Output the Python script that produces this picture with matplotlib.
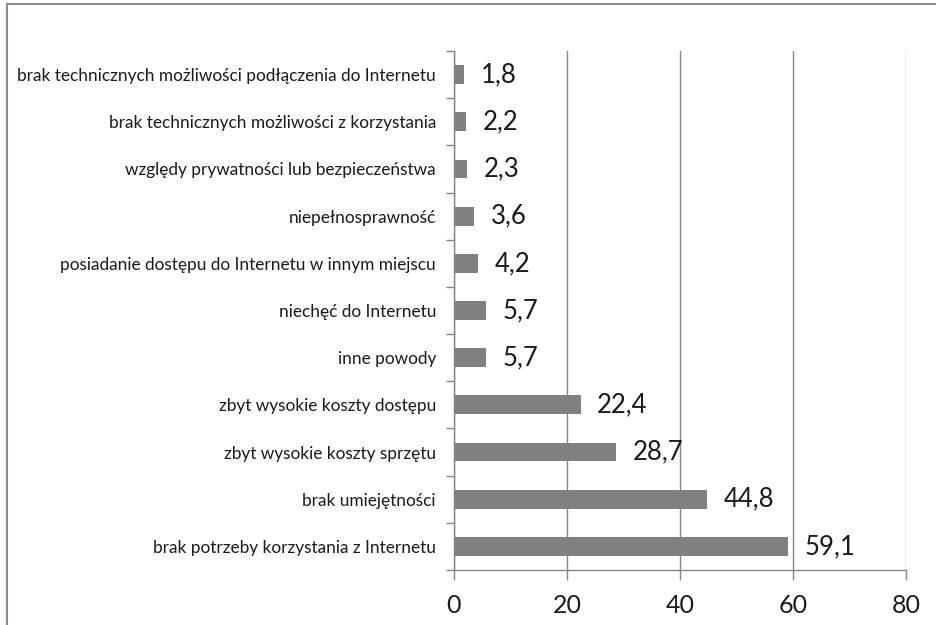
import matplotlib
matplotlib.use("Agg")
import matplotlib.pyplot as plt
from matplotlib.patches import Rectangle
import numpy as np

categories = [
    "brak potrzeby korzystania z Internetu",
    "brak umiejętności",
    "zbyt wysokie koszty sprzętu",
    "zbyt wysokie koszty dostępu",
    "inne powody",
    "niechęć do Internetu",
    "posiadanie dostępu do Internetu w innym miejscu",
    "niepełnosprawność",
    "względy prywatności lub bezpieczeństwa",
    "brak technicznych możliwości z korzystania",
    "brak technicznych możliwości podłączenia do Internetu",
]
values = [59.1, 44.8, 28.7, 22.4, 5.7, 5.7, 4.2, 3.6, 2.3, 2.2, 1.8]
value_labels = ["59,1", "44,8", "28,7", "22,4", "5,7", "5,7", "4,2", "3,6", "2,3", "2,2", "1,8"]
xticks = [0, 20, 40, 60, 80]

plt.rcParams['font.family'] = ['Lato', 'DejaVu Sans']

W, H = 937, 625
fig = plt.figure(figsize=(W / 100, H / 100), dpi=100)
fig.patches.append(Rectangle((7 / W, -0.1), 1.2, (1 - 4 / H) + 0.1, transform=fig.transFigure,
                             fill=False, edgecolor="#8c8c8c", linewidth=1.5))

left, right = 454 / W, 906 / W
top, bottom = 1 - 51 / H, 1 - 570 / H
ax = fig.add_axes([left, bottom, right - left, top - bottom])

gray = "#868686"
y = np.arange(len(categories))
ax.barh(y, values, height=0.40, color="#808080", zorder=3)
ax.set_xlim(0, 80)
ax.set_ylim(-0.5, len(categories) - 0.5)

for yi, v, lab in zip(y, values, value_labels):
    ax.annotate(lab, (v, yi), xytext=(12, 0), textcoords="offset points",
                va="center", ha="left", fontsize=18.5, color="#1a1a1a")

ax.set_xticks(xticks)
ax.set_xticklabels([str(t) for t in xticks], fontsize=18, color="#1a1a1a")
ax.tick_params(axis="x", length=7, color=gray, width=1, pad=10)
ax.grid(axis="x", color=gray, linewidth=1, zorder=0)

ax.set_yticks(np.arange(-0.5, len(categories), 1.0))
ax.set_yticklabels([])
ax.tick_params(axis="y", which="major", length=6, color=gray, width=1)
ax.set_yticks(y, minor=True)
ax.set_yticklabels(categories, minor=True, fontsize=12.4, color="#1a1a1a")
ax.tick_params(axis="y", which="minor", length=0, pad=13)

for s in ["top", "right"]:
    ax.spines[s].set_visible(False)
for s in ["left", "bottom"]:
    ax.spines[s].set_color(gray)
    ax.spines[s].set_linewidth(1)

fig.savefig("out.png", dpi=100)
